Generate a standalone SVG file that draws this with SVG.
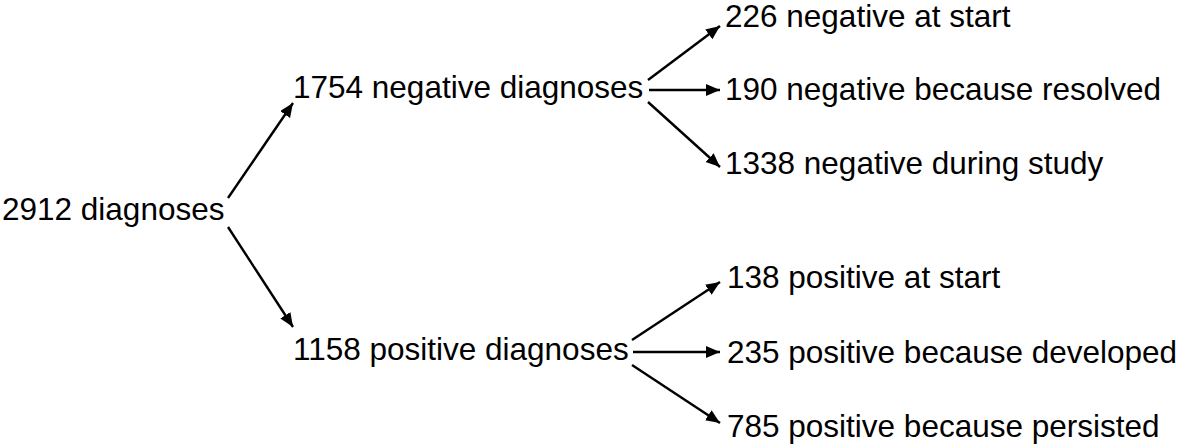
<svg xmlns="http://www.w3.org/2000/svg" width="1181" height="447" viewBox="0 0 1181 447">
<style>
text{font-family:"Liberation Sans",Arial,sans-serif;font-size:31.5px;fill:#000}
.c line{stroke:#000;stroke-width:2.4;marker-end:url(#ah)}
</style>
<defs>
<marker id="ah" markerUnits="userSpaceOnUse" markerWidth="15" markerHeight="13" refX="14" refY="6" orient="auto">
<path d="M0,0 L14,6 L0,12 Z" fill="#000"/>
</marker>
</defs>
<rect width="1181" height="447" fill="#fff"/>
<g id="connectors" class="c">
<line x1="228" y1="198" x2="293" y2="103"/>
<line x1="228" y1="227" x2="293" y2="327"/>
<line x1="648" y1="80" x2="720" y2="26"/>
<line x1="649" y1="90" x2="720" y2="90"/>
<line x1="648" y1="102" x2="720" y2="167"/>
<line x1="632" y1="340" x2="720" y2="282"/>
<line x1="633" y1="352" x2="720" y2="352"/>
<line x1="632" y1="365" x2="720" y2="423"/>
</g>
<g id="n-total"><text x="2" y="220">2912 diagnoses</text></g>
<g id="n-neg"><text x="293" y="98">1754 negative diagnoses</text></g>
<g id="n-pos"><text x="293" y="360">1158 positive diagnoses</text></g>
<g id="n-neg-start"><text x="725" y="27">226 negative at start</text></g>
<g id="n-neg-resolved"><text x="725" y="100">190 negative because resolved</text></g>
<g id="n-neg-during"><text x="725" y="174">1338 negative during study</text></g>
<g id="n-pos-start"><text x="727" y="288">138 positive at start</text></g>
<g id="n-pos-developed"><text x="727" y="363">235 positive because developed</text></g>
<g id="n-pos-persisted"><text x="727" y="437">785 positive because persisted</text></g>
</svg>
